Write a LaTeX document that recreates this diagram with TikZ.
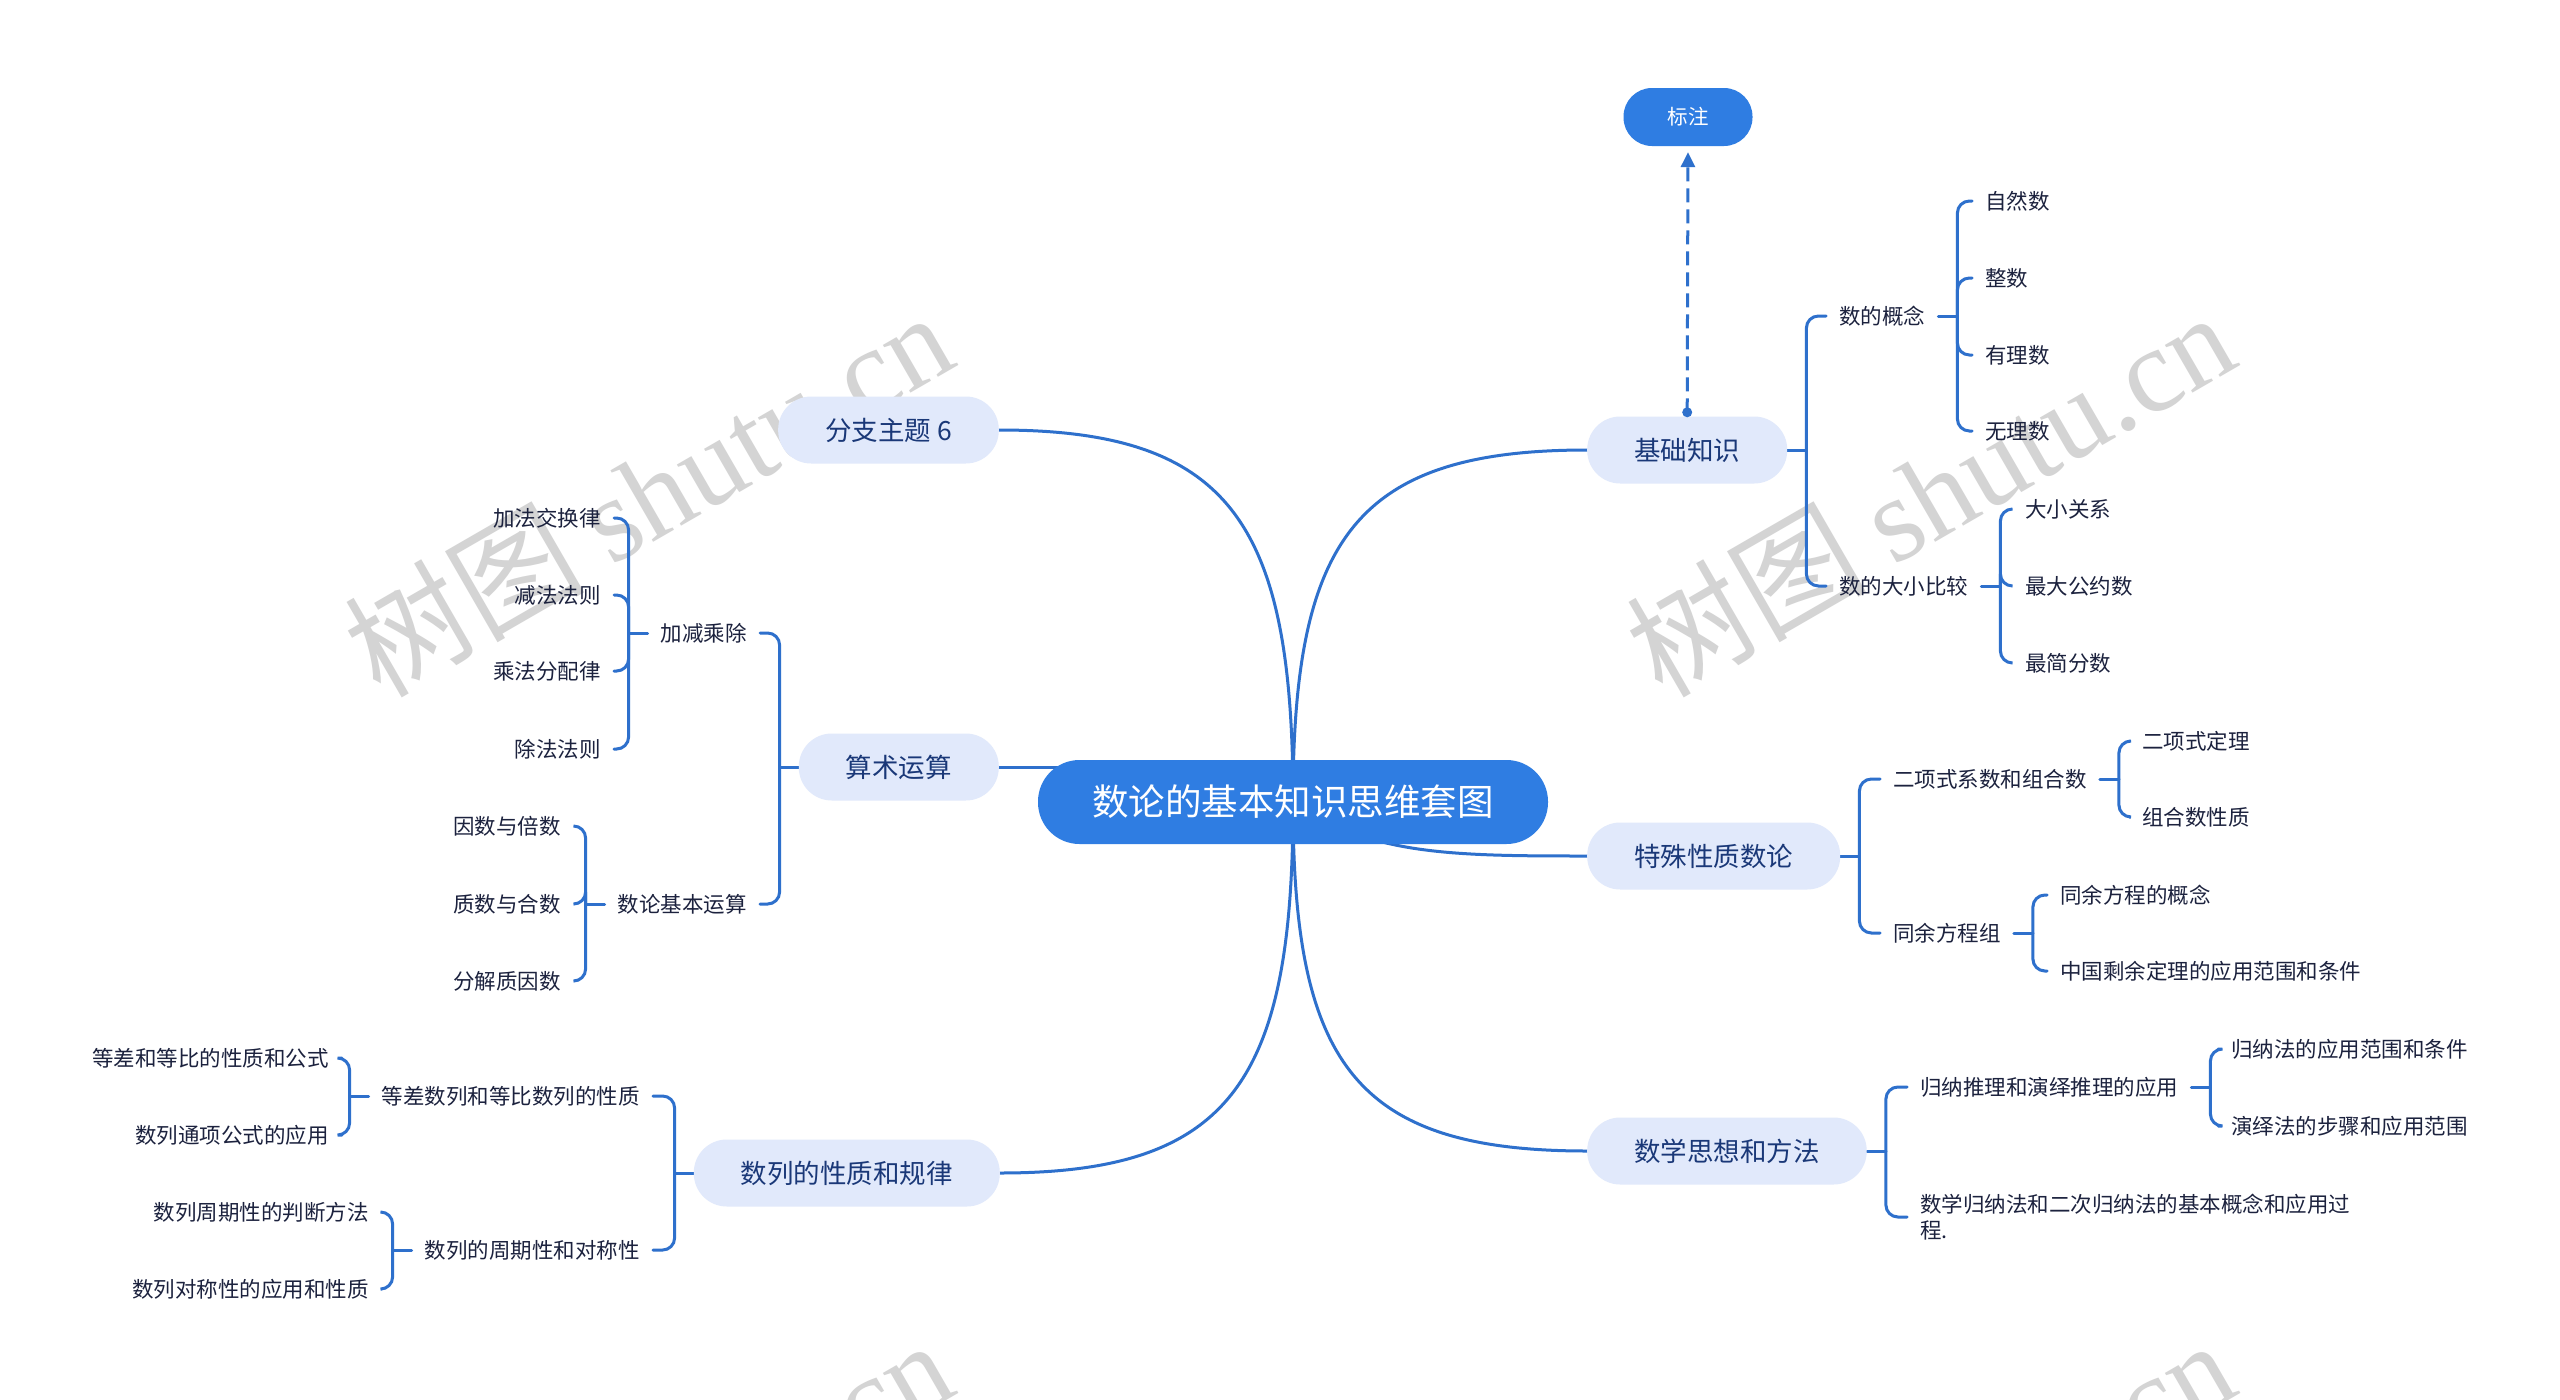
\documentclass[tikz,border=0pt]{standalone}
\usepackage{fontspec}
\setmainfont{Noto Sans CJK SC}
\newfontfamily\wmlatin{Liberation Serif}
\usetikzlibrary{arrows.meta}
\definecolor{linec}{RGB}{46,112,204}
\definecolor{rootc}{RGB}{47,125,226}
\definecolor{lonefill}{RGB}{225,233,251}
\definecolor{lonetext}{RGB}{26,56,120}
\definecolor{smalltext}{RGB}{28,34,62}
\definecolor{wmc}{RGB}{212,212,212}
\pgfdeclarelayer{wmlayer}
\pgfdeclarelayer{bglayer}
\pgfsetlayers{wmlayer,bglayer,main}
\begin{document}
\begin{tikzpicture}[x=1pt,y=-1pt,
  rootnode/.style={rectangle, rounded corners=41.5pt, fill=rootc, text=white,
    font=\fontsize{36.5}{42}\selectfont, minimum height=84pt, minimum width=510pt, inner xsep=0pt, inner ysep=0pt},
  lone/.style={rectangle, rounded corners=33pt, fill=lonefill, text=lonetext,
    font=\fontsize{26.5}{30}\selectfont, minimum height=67pt, inner xsep=47pt, inner ysep=0pt},
  notenode/.style={rectangle, rounded corners=28.5pt, fill=rootc, text=white,
    font=\fontsize{20.5}{24}\selectfont, minimum height=58pt, inner xsep=44pt, inner ysep=0pt},
  leaf/.style={text=smalltext, font=\fontsize{21.5}{26}\selectfont, inner xsep=13pt, inner ysep=2pt},
  wm/.style={text=wmc, font=\fontsize{120}{122}\selectfont, inner sep=0pt, anchor=base west, rotate=30},
  conn/.style={draw=linec, line width=3pt, line cap=round},
  br/.style={conn, rounded corners=12pt}]
\useasboundingbox (0,0) rectangle (2560,1400);

\begin{pgfonlayer}{wmlayer}
\fill[white] (0,0) rectangle (2560,1400);
\node[wm] (wma) at (380,700) {树图 {\wmlatin shutu.cn}};
\node[wm] (wmb) at (1662,700) {树图 {\wmlatin shutu.cn}};
\node[wm] (wmc) at (380,1728) {树图 {\wmlatin shutu.cn}};
\node[wm] (wmd) at (1662,1728) {树图 {\wmlatin shutu.cn}};
\end{pgfonlayer}

% root and main topics
\node[rootnode] (root) at (1293,802) {数论的基本知识思维套图};
\node[lone, anchor=east] (b6) at (999,430) {分支主题 6};
\node[lone, anchor=east] (ss) at (999,767) {算术运算};
\node[lone, anchor=east] (sl) at (1000,1173) {数列的性质和规律};
\node[lone, anchor=west] (jc) at (1587,450) {基础知识};
\node[lone, anchor=west] (ts) at (1587,856) {特殊性质数论};
\node[lone, anchor=west] (sx) at (1587,1151) {数学思想和方法};
\node[notenode] (bz) at (1688,117) {标注};

% right side, level 2
\node[leaf, anchor=west] (gn) at (1826,316) {数的概念};
\node[leaf, anchor=west] (dx) at (1826,586) {数的大小比较};
\node[leaf, anchor=west] (ex) at (1880,779) {二项式系数和组合数};
\node[leaf, anchor=west] (ty) at (1880,933) {同余方程组};
\node[leaf, anchor=west] (gt) at (1907,1087) {归纳推理和演绎推理的应用};
\node[leaf, anchor=west, align=left] (sg) at (1907,1217) {数学归纳法和二次归纳法的基本概念和应用过\\程.};

% right side, level 3
\node[leaf, anchor=west] (zr) at (1972,201) {自然数};
\node[leaf, anchor=west] (zs) at (1972,278) {整数};
\node[leaf, anchor=west] (yl) at (1972,355) {有理数};
\node[leaf, anchor=west] (wl) at (1972,431) {无理数};
\node[leaf, anchor=west] (dg) at (2012,509) {大小关系};
\node[leaf, anchor=west] (gy) at (2012,586) {最大公约数};
\node[leaf, anchor=west] (jf) at (2012,663) {最简分数};
\node[leaf, anchor=west] (ed) at (2129,741) {二项式定理};
\node[leaf, anchor=west] (zh) at (2129,817) {组合数性质};
\node[leaf, anchor=west] (tg) at (2047,895) {同余方程的概念};
\node[leaf, anchor=west] (zg) at (2047,971) {中国剩余定理的应用范围和条件};
\node[leaf, anchor=west] (gf) at (2218,1049) {归纳法的应用范围和条件};
\node[leaf, anchor=west] (yf) at (2218,1126) {演绎法的步骤和应用范围};

% left side, level 2
\node[leaf, anchor=east] (jj) at (760,633) {加减乘除};
\node[leaf, anchor=east] (jb) at (760,904) {数论基本运算};
\node[leaf, anchor=east] (dc) at (653,1096) {等差数列和等比数列的性质};
\node[leaf, anchor=east] (zq) at (653,1250) {数列的周期性和对称性};

% left side, level 3
\node[leaf, anchor=east] (jh) at (614,518) {加法交换律};
\node[leaf, anchor=east] (jfz) at (614,595) {减法法则};
\node[leaf, anchor=east] (cf) at (614,671) {乘法分配律};
\node[leaf, anchor=east] (cz) at (614,749) {除法法则};
\node[leaf, anchor=east] (ys) at (574,826) {因数与倍数};
\node[leaf, anchor=east] (zhs) at (574,904) {质数与合数};
\node[leaf, anchor=east] (fj) at (574,981) {分解质因数};
\node[leaf, anchor=east] (dd) at (342,1058) {等差和等比的性质和公式};
\node[leaf, anchor=east] (tx) at (342,1135) {数列通项公式的应用};
\node[leaf, anchor=east] (pd) at (382,1212) {数列周期性的判断方法};
\node[leaf, anchor=east] (dcx) at (382,1289) {数列对称性的应用和性质};

\begin{pgfonlayer}{bglayer}
% main connectors
\draw[conn] (root.center) .. controls +(0,-278) and +(232,0) .. (b6.east);
\draw[conn] (root.center) .. controls +(0,-263) and +(-232,0) .. (jc.west);
\draw[conn] (ss.east) -- (root.center |- ss.east);
\draw[conn] (root.center) .. controls +(77,53) and +(-137,0) .. (ts.west);
\draw[conn] (root.center) .. controls +(0,278) and +(232,0) .. (sl.east);
\draw[conn] (root.center) .. controls +(0,262) and +(-232,0) .. (sx.west);

% right brackets
\draw[conn] (jc.east) -- ++(19,0) coordinate (vjc);
\foreach \c in {gn,dx} \draw[br] (vjc) |- (\c.west);
\draw[conn] (gn.east) -- ++(19,0) coordinate (vgn);
\foreach \c in {zr,zs,yl,wl} \draw[br] (vgn) |- (\c.west);
\draw[conn] (dx.east) -- ++(19,0) coordinate (vdx);
\foreach \c in {dg,gy,jf} \draw[br] (vdx) |- (\c.west);
\draw[conn] (ts.east) -- ++(19,0) coordinate (vts);
\foreach \c in {ex,ty} \draw[br] (vts) |- (\c.west);
\draw[conn] (ex.east) -- ++(19,0) coordinate (vex);
\foreach \c in {ed,zh} \draw[br] (vex) |- (\c.west);
\draw[conn] (ty.east) -- ++(19,0) coordinate (vty);
\foreach \c in {tg,zg} \draw[br] (vty) |- (\c.west);
\draw[conn] (sx.east) -- ++(19,0) coordinate (vsx);
\foreach \c in {gt,sg} \draw[br] (vsx) |- (\c.west);
\draw[conn] (gt.east) -- ++(19,0) coordinate (vgt);
\foreach \c in {gf,yf} \draw[br] (vgt) |- (\c.west);

% left brackets
\draw[conn] (ss.west) -- ++(-19,0) coordinate (vss);
\foreach \c in {jj,jb} \draw[br] (vss) |- (\c.east);
\draw[conn] (jj.west) -- ++(-19,0) coordinate (vjj);
\foreach \c in {jh,jfz,cf,cz} \draw[br] (vjj) |- (\c.east);
\draw[conn] (jb.west) -- ++(-19,0) coordinate (vjb);
\foreach \c in {ys,zhs,fj} \draw[br] (vjb) |- (\c.east);
\draw[conn] (sl.west) -- ++(-19,0) coordinate (vsl);
\foreach \c in {dc,zq} \draw[br] (vsl) |- (\c.east);
\draw[conn] (dc.west) -- ++(-19,0) coordinate (vdc);
\foreach \c in {dd,tx} \draw[br] (vdc) |- (\c.east);
\draw[conn] (zq.west) -- ++(-19,0) coordinate (vzq);
\foreach \c in {pd,dcx} \draw[br] (vzq) |- (\c.east);
\end{pgfonlayer}

% callout link
\coordinate (jcdot) at ([yshift=4pt]jc.north);
\fill[linec] (jcdot) circle[radius=5pt];
\draw[conn, line cap=butt, dash pattern=on 14pt off 7pt, -{Triangle[length=15pt,width=14pt]}, shorten >=6pt] (jcdot) -- (bz.south);
\end{tikzpicture}
\end{document}
